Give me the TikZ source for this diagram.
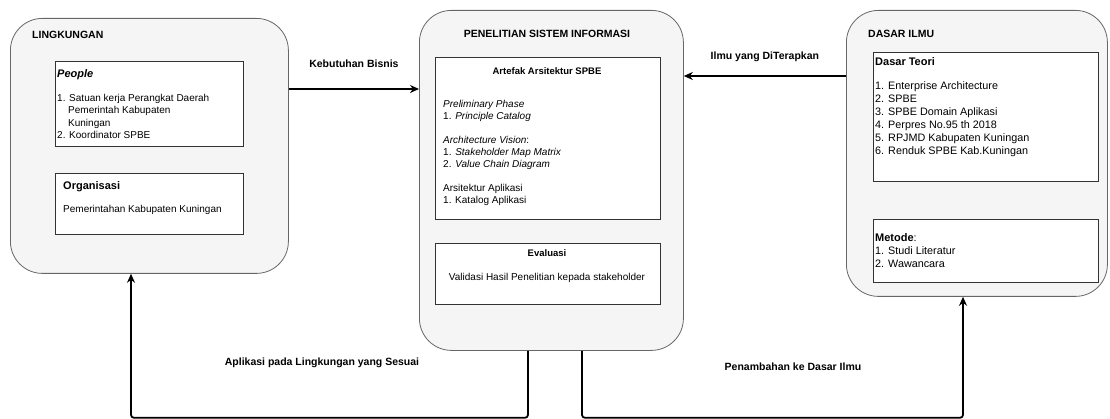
\documentclass[tikz,border=0pt]{standalone}
\usepackage{fontspec}
\setmainfont{Liberation Sans}
\usetikzlibrary{arrows.meta,calc,positioning}
\definecolor{PanelGray}{HTML}{F5F5F5}
\definecolor{PanelLine}{HTML}{666666}
\definecolor{CardLine}{HTML}{333333}

\tikzset{
  panel/.style={draw=PanelLine,fill=PanelGray,rounded corners=32pt,line width=0.8pt,
    anchor=north west,inner sep=0pt},
  card/.style={draw=CardLine,fill=white,line width=0.8pt,anchor=north west,inner sep=0pt},
  head/.style={font=\bfseries\fontsize{10.5}{12}\selectfont,inner sep=0pt,anchor=base west},
  cardhead/.style={font=\bfseries\fontsize{11}{13}\selectfont,inner sep=0pt,anchor=base west},
  cardtitle/.style={font=\bfseries\fontsize{9.5}{12}\selectfont,inner sep=0pt,anchor=base},
  body/.style={font=\fontsize{10}{12.3}\selectfont,align=left,inner sep=0pt,anchor=north west},
  flowlabel/.style={font=\bfseries\fontsize{10.5}{12}\selectfont,inner sep=0pt},
  flow/.style={line width=1.8pt,-{Stealth[length=9pt,width=8pt]},rounded corners=3pt},
}

\begin{document}
\begin{tikzpicture}[x=1pt,y=-1pt]
\useasboundingbox (0,0) rectangle (1110,419);

% three main panels
\node[panel,minimum width=278pt,minimum height=255pt] (lingkungan) at (10,18) {};
\node[panel,minimum width=264pt,minimum height=340pt] (penelitian) at (419,10) {};
\node[panel,minimum width=261pt,minimum height=286pt] (dasar) at (846,10) {};

\node[head] (tLingkungan) at (32,38.5) {LINGKUNGAN};
\node[head,anchor=base] (tPenelitian) at (547,37.5) {PENELITIAN SISTEM INFORMASI};
\node[head] (tDasar) at (868,37.5) {DASAR ILMU};

% lingkungan: people + organisasi
\node[card,minimum width=188pt,minimum height=85pt] (people) at (55,61) {};
\node[cardhead] (peopleHead) at (57,78) {\itshape People};
\node[body] (peopleList) at (57,94.2) {1. Satuan kerja Perangkat Daerah\\
  \hspace*{11pt}Pemerintah Kabupaten\\
  \hspace*{11pt}Kuningan\\
  2. Koordinator SPBE};

\node[card,minimum width=188pt,minimum height=61pt] (organisasi) at (55,173) {};
\node[cardhead] (organisasiHead) at (63,190) {Organisasi};
\node[body] (organisasiText) at (63,205.2) {Pemerintahan Kabupaten Kuningan};

% penelitian: artefak + evaluasi
\node[card,minimum width=225pt,minimum height=162pt] (artefak) at (435,57) {};
\node[cardtitle] (artefakHead) at (547,74.5) {Artefak Arsitektur SPBE};
\node[body,font=\fontsize{10}{12}\selectfont] (artefakList) at (443,100.2) {\textit{Preliminary Phase}\\
  1. \textit{Principle Catalog}\\[12pt]
  \textit{Architecture Vision}:\\
  1. \textit{Stakeholder Map Matrix}\\
  2. \textit{Value Chain Diagram}\\[12pt]
  Arsitektur Aplikasi\\
  1. Katalog Aplikasi};

\node[card,minimum width=225pt,minimum height=61pt] (evaluasi) at (435,243) {};
\node[cardtitle] (evaluasiHead) at (547,256.5) {Evaluasi};
\node[body,anchor=base] (evaluasiText) at (547,280.5) {Validasi Hasil Penelitian kepada stakeholder};

% dasar ilmu: teori + metode
\node[card,minimum width=225pt,minimum height=129pt] (teori) at (873,52) {};
\node[cardhead] (teoriHead) at (875,66) {Dasar Teori};
\node[body,font=\fontsize{10.8}{13.1}\selectfont] (teoriList) at (875,81.4) {1. Enterprise Architecture\\
  2. SPBE\\
  3. SPBE Domain Aplikasi\\
  4. Perpres No.95 th 2018\\
  5. RPJMD Kabupaten Kuningan\\
  6. Renduk SPBE Kab.Kuningan};

\node[card,minimum width=225pt,minimum height=63pt] (metode) at (873,219) {};
\node[body,font=\fontsize{10.8}{13.1}\selectfont] (metodeList) at (875,233.3) {{\bfseries\fontsize{11}{13}\selectfont Metode}:\\
  1. Studi Literatur\\
  2. Wawancara};

% connectors
\draw[flow] ($(lingkungan.north east)+(0,71)$) -- ($(penelitian.north west)+(0,79)$)
  node[flowlabel,midway,above=20pt] (lblBisnis) {Kebutuhan Bisnis};
\draw[flow] ($(dasar.north west)+(0,66)$) -- ($(penelitian.north east)+(0,66)$)
  node[flowlabel,midway,above=13pt] (lblIlmu) {Ilmu yang DiTerapkan};
\draw[flow] ($(penelitian.south west)+(109,0)$) -- ++(0,67) -| ($(lingkungan.south west)+(121,0)$);
\draw[flow] ($(penelitian.south west)+(163,0)$) -- ++(0,67) -| ($(dasar.south west)+(117,0)$);
\node[flowlabel] (lblAplikasi) at (322,363) {Aplikasi pada Lingkungan yang Sesuai};
\node[flowlabel] (lblPenambahan) at (793,367) {Penambahan ke Dasar Ilmu};
\end{tikzpicture}
\end{document}
